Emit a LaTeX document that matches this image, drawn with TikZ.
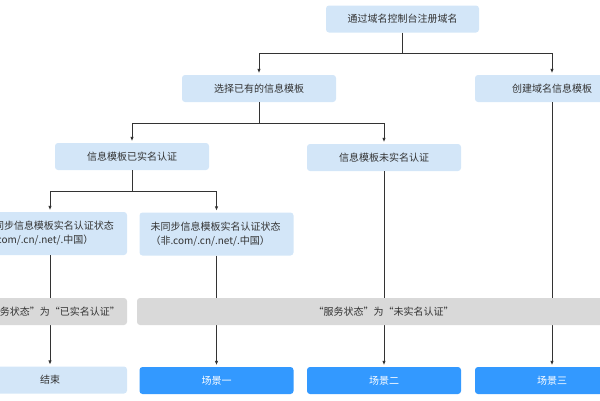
\documentclass[tikz,border=0pt]{standalone}
\usepackage{fontspec}
\setmainfont{Noto Sans CJK SC}
\usetikzlibrary{arrows.meta}
\definecolor{lightbox}{HTML}{D3E6F8}
\definecolor{bluebox}{HTML}{3399FF}
\definecolor{graybox}{HTML}{D9D9D9}
\definecolor{txt}{HTML}{333333}
\definecolor{ln}{HTML}{333333}
\tikzset{
  base/.style={rounded corners=3pt, inner sep=0pt, font=\fontsize{10}{14}\selectfont, text=txt},
  lbox/.style={base, fill=lightbox, minimum width=154pt, minimum height=27pt},
  lbox2/.style={base, fill=lightbox, minimum width=154pt, minimum height=43pt, text width=132pt, align=left},
  bbox/.style={base, fill=bluebox, text=white, minimum width=154pt, minimum height=27pt},
  gband/.style={base, fill=graybox, minimum height=27pt},
  conn/.style={draw=ln, line width=0.9pt},
  arr/.style={conn, -{Latex[length=4.5pt,width=3.5pt]}, shorten >=1.5pt}
}
\begin{document}
\begin{tikzpicture}[x=1pt,y=-1pt]
\useasboundingbox (0,0) rectangle (600,400);
\clip (0,0) rectangle (600,400);
\node[lbox, minimum width=153pt] (top) at (402.5,19) {通过域名控制台注册域名};
\node[lbox] (sel) at (259,88.5) {选择已有的信息模板};
\node[lbox] (create) at (552,88.5) {创建域名信息模板};
\node[lbox] (yi) at (132,156.5) {信息模板已实名认证};
\node[lbox] (wei) at (384,157.5) {信息模板未实名认证};
\node[lbox2] (tb) at (50,233.5) {已同步信息模板实名认证状态\\（.com/.cn/.net/.中国）};
\node[lbox2] (nt) at (216.5,234) {未同步信息模板实名认证状态\\（非.com/.cn/.net/.中国）};
\node[bbox, text=txt, fill=lightbox] (end) at (50,380) {结束};
\node[bbox] (s1) at (216.5,380.5) {场景一};
\node[bbox] (s2) at (384,380.5) {场景二};
\node[bbox] (s3) at (552,380.5) {场景三};
% connectors
\draw[conn] (top.south) -- ++(0,21) coordinate (j1);
\draw[arr] (j1) -| (sel.north);
\draw[arr] (j1) -| (create.north);
\draw[conn] (sel.south) -- ++(0,21) coordinate (j2);
\draw[arr] (j2) -| (yi.north);
\draw[arr] (j2) -| (wei.north);
\draw[conn] (yi.south) -- ++(0,21) coordinate (j3);
\draw[arr] (j3) -| (tb.north);
\draw[arr] (j3) -| (nt.north);
\draw[arr] (tb.south) -- (end.north);
\draw[arr] (nt.south) -- (s1.north);
\draw[arr] (wei.south) -- (s2.north);
\draw[arr] (create.south) -- (s3.north);
% gray bands on top
\node[gband, minimum width=154pt] (gl) at (50,311.5) {“服务状态”为“已实名认证”};
\node[gband, minimum width=493pt] (gr) at (383.5,311.5) {};
\node[base] (grt) at (gr.center) {“服务状态”为“未实名认证”};
\end{tikzpicture}
\end{document}
